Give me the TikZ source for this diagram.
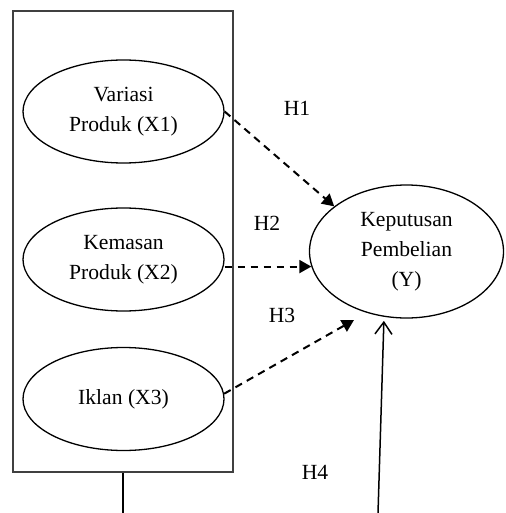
\documentclass[tikz,border=0pt]{standalone}
\usepackage{fontspec}
\setmainfont{Liberation Serif}
\usetikzlibrary{shapes.geometric}
\usetikzlibrary{arrows.meta}

\begin{document}
\begin{tikzpicture}[x=0.5pt, y=-0.5pt,
    font=\fontsize{10.8}{15}\selectfont,
    var/.style={draw, ellipse, line width=0.65pt, align=center, inner sep=0pt,
      minimum width=100.5pt, minimum height=51.5pt},
    hyp/.style={line width=1pt, dash pattern=on 3.75pt off 2.75pt,
      -{Triangle[length=6pt, width=6.5pt]}}]
  \useasboundingbox (0,0) rectangle (505,513);
  \node[draw, black!75, line width=0.65pt, minimum width=110pt, minimum height=230.5pt] (box) at (123,241.5) {};
  \coordinate (boxend) at (123,513);
  \draw[line width=0.65pt] (box.south) -- (boxend);
  \node[var] (x1) at (123.5,111.5) {Variasi\\Produk (X1)};
  \node[var] (x2) at (123.5,259.5) {Kemasan\\Produk (X2)};
  \node[var] (x3) at (123.5,399) {Iklan (X3)};
  \node[draw, ellipse, line width=0.65pt, align=center, inner sep=0pt,
    minimum width=97pt, minimum height=66.5pt] (y) at (406.5,251.5) {Keputusan\\Pembelian\\(Y)};
  \coordinate (h3end) at (354,320);
  \coordinate (h4start) at (378,513);
  \draw[hyp] (x1.east) -- (y.148);
  \draw[hyp] (x2.east |- y.189) -- (y.189);
  \draw[hyp] (x3.3) -- (h3end);
  \draw[line width=0.75pt, -{Straight Barb[length=6pt, width=8.5pt]}, shorten >=2pt] (h4start) -- (y.251);
  \node (h1) at (297,108) {H1};
  \node (h2) at (267,223) {H2};
  \node (h3) at (282,315) {H3};
  \node (h4) at (315,472) {H4};
\end{tikzpicture}
\end{document}
